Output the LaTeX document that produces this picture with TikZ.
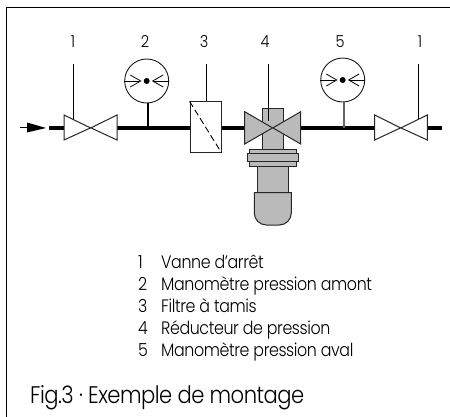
\documentclass[tikz,border=0pt]{standalone}
\usepackage{fontspec}
\setmainfont{Poppins}[UprightFont=* Light,FakeStretch=0.88,LetterSpace=-2.2]
\tikzset{
 x=1pt,y=-1pt,
 thin line/.style={draw=black,line width=0.9pt},
 pipe/.style={draw=black,line width=3.6pt},
 gray part/.style={draw=black!85,fill=black!27,line width=1pt},
 open part/.style={draw=black!85,fill=white,line width=1pt},
 num/.style={font=\fontsize{16.5}{17}\selectfont,inner sep=0pt,anchor=base},
 legend/.style={font=\fontsize{18}{20}\selectfont,inner sep=0pt,anchor=base west},
 dial/.style={circle,draw=black!90,fill=white,line width=0.9pt,minimum size=44pt,inner sep=0pt},
 dot/.style={circle,fill=black,minimum size=6pt,inner sep=0pt},
 hub/.style={inner sep=0pt,minimum size=0pt},
}
\newcommand{\gaugemarks}[1]{%
 \draw[thin line,line width=0.8pt] (#1.west) -- ++(15,0) (#1.east) -- ++(-15,0);
 \draw[thin line,line width=0.8pt] ([shift={(6,-6)}]#1.west) -- ++(10.5,6) -- ++(-10.5,6);
 \draw[thin line,line width=0.8pt] ([shift={(-6,-6)}]#1.east) -- ++(-10.5,6) -- ++(10.5,6);
}
\begin{document}
\begin{tikzpicture}
\useasboundingbox (0,0) rectangle (450,417);
\fill[white] (0,0) rectangle (450,417);
% frame
\coordinate (fa) at (6.5,417); \coordinate (fb) at (6.5,7.3); \coordinate (fc) at (450,7.3);
\draw[black,line width=1.2pt] (fa) -- (fb) -- (fc);
% key points
\coordinate (inS) at (20,128); \coordinate (inT) at (46,128);
\coordinate (pipeA) at (49,128);
\coordinate (pipeZ) at (442,128);
\node[hub] (v1) at (90.7,128) {};
\node[hub] (v4) at (272.7,128) {};
\node[hub] (v5) at (400.7,128) {};
\coordinate (v1L) at (64,128); \coordinate (v1R) at (117,128);
\coordinate (v4L) at (244.7,128); \coordinate (v4R) at (300.7,128);
\coordinate (v5L) at (374.7,128); \coordinate (v5R) at (427.3,128);
\node[draw=black!85,fill=white,line width=1pt,minimum width=31pt,minimum height=50.5pt,inner sep=0pt] (filt) at (205.5,127) {};
% pipes
\draw[pipe] (pipeA) -- (v1L);
\draw[pipe] (v1R) -- (v1R -| filt.west);
\draw[pipe] (v1R -| filt.east) -- (v4L);
\draw[pipe] (v4R) -- (v5L);
\draw[pipe] (v5R) -- (pipeZ);
% inlet arrow
\draw[black,line width=1pt] (inS) -- ++(8,0);
\fill[black] (27,122.5) -- (inT) -- (27,132.5) -- cycle;
% filter diagonal
\draw[black,line width=0.9pt,dash pattern=on 6.5pt off 3.5pt] (filt.north west) -- (filt.south east);
% valve 1
\draw[open part] (v1) -- (64,115) -- (64,140) -- cycle;
\draw[open part] (v1) -- (117,115) -- (117,140) -- cycle;
% valve 5
\draw[open part] (v5) -- (374.7,115) -- (374.7,140) -- cycle;
\draw[open part] (v5) -- (427.3,115) -- (427.3,140) -- cycle;
% reducer
\draw[gray part] (254.3,192.7) -- (291.3,192.7) -- (291.3,213) arc[start angle=0,end angle=90,radius=12] -- (266.3,225) arc[start angle=90,end angle=180,radius=12] -- cycle;
\draw[gray part] (257.7,166) rectangle (288,192.7);
\draw[gray part] (262.3,108.3) rectangle (283.3,149.3);
\draw[gray part] (249.3,149.3) rectangle (296.7,166.3);
\draw[gray part] (247.7,153.7) rectangle (298,161.3);
\draw[gray part] (v4) -- (244.7,111.7) -- (244.7,144) -- cycle;
\draw[gray part] (v4) -- (300.7,111.7) -- (300.7,144) -- cycle;
% gauges
\node[dial] (g2) at (146.7,81) {};
\node[dial] (g5) at (342.7,80) {};
\coordinate (g2s) at (148,128); \coordinate (g5s) at (344,128);
\draw[black,line width=1.6pt] (148,103) -- (g2s);
\draw[black!60,line width=1.6pt] (344,102) -- (g5s);
\gaugemarks{g2}
\gaugemarks{g5}
\node[dot] at (g2) {};
\node[dot] at (g5) {};
% number labels
\node[num] (n1) at (73,48) {1};
\node[num] (n2) at (145,48) {2};
\node[num] (n3) at (204,48) {3};
\node[num] (n4) at (265,48) {4};
\node[num] (n5) at (340,48) {5};
\node[num] (n6) at (420,48) {1};
% leader lines
\coordinate (l3) at (206.3,64);
\draw[thin line] (73.3,64) -- (73.3,119);
\draw[thin line] (l3) -- (l3 |- filt.north);
\draw[thin line] (268.3,64) -- (268.3,120.7);
\draw[thin line] (418.3,64) -- (418.3,119);
% legend
\foreach \y/\n/\t in {268/1/Vanne d’arrêt,290/2/Manomètre pression amont,312/3/Filtre à tamis,334.7/4/Réducteur de pression,356.7/5/Manomètre pression aval}{
 \node[legend] at (138,\y) {\n};
 \node[legend] at (161,\y) {\t};
}
\node[inner sep=0pt,anchor=base west,font=\fontsize{24}{26}\selectfont] (cap) at (30,403) {Fig.3 · Exemple de montage};
\end{tikzpicture}
\end{document}
